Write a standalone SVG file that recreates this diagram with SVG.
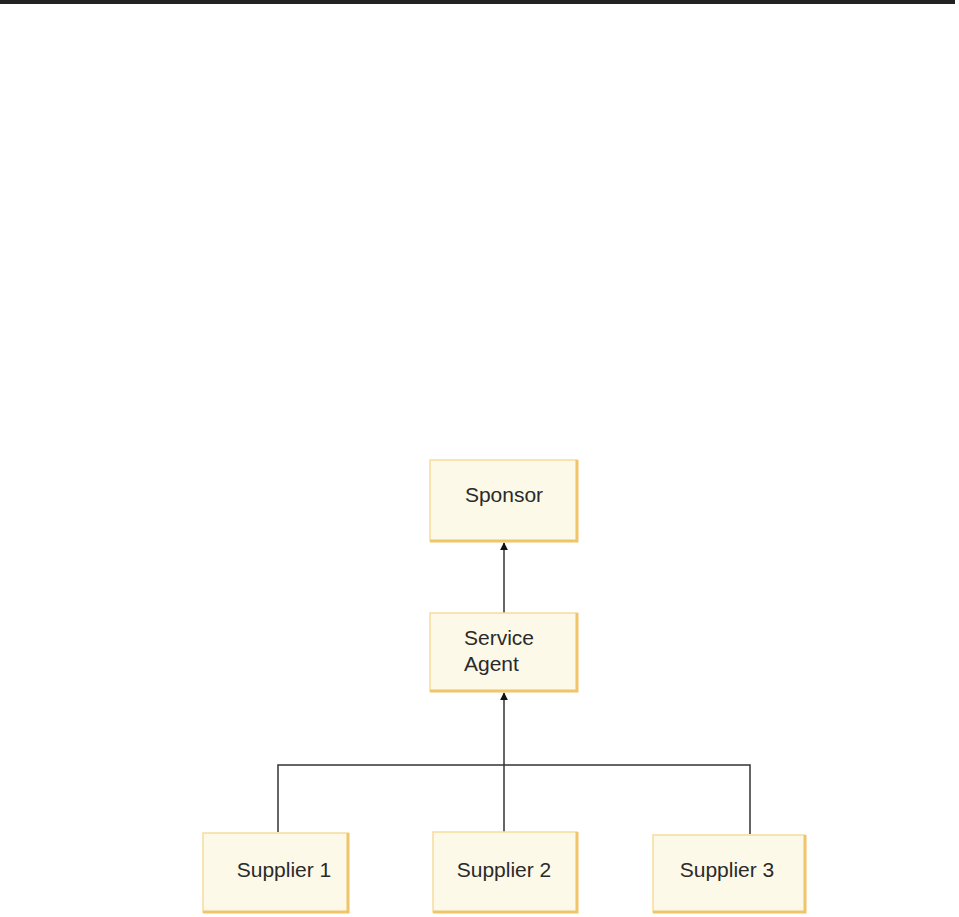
<svg xmlns="http://www.w3.org/2000/svg" width="959" height="917" viewBox="0 0 959 917">
<style>
.box{fill:#fdf9e8;stroke:#f6dc9c;stroke-width:1.5}
.edge{fill:none;stroke:#f0c469;stroke-width:3}
.lbl{font-family:"Liberation Sans",Arial,sans-serif;font-size:21px;fill:#2a2a2a}
.c{fill:none;stroke:#333;stroke-width:1.5}
</style>
<defs>
<marker id="ah" viewBox="0 0 10 10" refX="9" refY="5" markerWidth="8" markerHeight="9" orient="auto" markerUnits="userSpaceOnUse">
<path d="M0,0 L10,5 L0,10 z" fill="#111"/>
</marker>
</defs>
<rect x="0" y="0" width="955" height="4" fill="#222"/>
<g id="connectors">
<path class="c" d="M504,613 L504,543" marker-end="url(#ah)"/>
<path class="c" d="M504,832 L504,693" marker-end="url(#ah)"/>
<path class="c" d="M278,832 L278,765 L750,765 L750,834"/>
</g>
<g id="sponsor">
<rect class="box" x="430" y="460" width="147" height="81"/>
<path class="edge" d="M577,460 L577,541 L430,541"/>
<text class="lbl" x="504" y="502" text-anchor="middle">Sponsor</text>
</g>
<g id="service-agent">
<rect class="box" x="430" y="613" width="147" height="78"/>
<path class="edge" d="M577,613 L577,691 L430,691"/>
<text class="lbl" x="464" y="645">Service</text>
<text class="lbl" x="464" y="671">Agent</text>
</g>
<g id="supplier1">
<rect class="box" x="203" y="833" width="145" height="79"/>
<path class="edge" d="M348,833 L348,912 L203,912"/>
<text class="lbl" x="284" y="877" text-anchor="middle">Supplier 1</text>
</g>
<g id="supplier2">
<rect class="box" x="433" y="832" width="144" height="80"/>
<path class="edge" d="M577,832 L577,912 L433,912"/>
<text class="lbl" x="504" y="877" text-anchor="middle">Supplier 2</text>
</g>
<g id="supplier3">
<rect class="box" x="653" y="835" width="152" height="77"/>
<path class="edge" d="M805,835 L805,912 L653,912"/>
<text class="lbl" x="727" y="877" text-anchor="middle">Supplier 3</text>
</g>
</svg>
